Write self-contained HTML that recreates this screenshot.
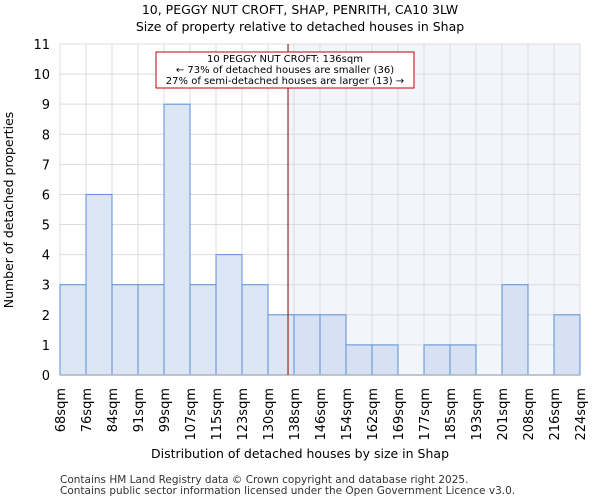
<!DOCTYPE html>
<html><head><meta charset="utf-8"><style>
body{margin:0;background:#fff;font-family:"DejaVu Sans","Liberation Sans",sans-serif}
svg text{font-family:"DejaVu Sans","Liberation Sans",sans-serif}
</style></head><body>
<svg id="c" width="600" height="500" xmlns="http://www.w3.org/2000/svg">
<text x="300" y="14" text-anchor="middle" font-size="12.5">10, PEGGY NUT CROFT, SHAP, PENRITH, CA10 3LW</text>
<text x="300" y="31" text-anchor="middle" font-size="12.5">Size of property relative to detached houses in Shap</text>
<g id="plot"></g>
<text x="300" y="458" text-anchor="middle" font-size="12.5">Distribution of detached houses by size in Shap</text>
<text transform="translate(13,210) rotate(-90)" text-anchor="middle" font-size="12.5">Number of detached properties</text>
<text x="60" y="483" font-size="10.5" fill="#333">Contains HM Land Registry data © Crown copyright and database right 2025.</text>
<text x="60" y="494" font-size="10.5" fill="#333">Contains public sector information licensed under the Open Government Licence v3.0.</text>
</svg>
<script>
const labels=["68sqm","76sqm","84sqm","91sqm","99sqm","107sqm","115sqm","123sqm","130sqm","138sqm","146sqm","154sqm","162sqm","169sqm","177sqm","185sqm","193sqm","201sqm","208sqm","216sqm","224sqm"];
const counts=[3,6,3,3,9,3,4,3,2,2,2,1,1,0,1,1,0,3,0,2];
const yTicks=[0,1,2,3,4,5,6,7,8,9,10,11];
const markerIndex=8.77;
const NS="http://www.w3.org/2000/svg";
const L=60,R=580,T=44,B=375,yMax=11;
const n=counts.length,bw=(R-L)/n;
const xs=i=>L+i*bw, ys=v=>B-(B-T)*v/yMax;
const g=document.getElementById('plot');
function mk(t,a){const e=document.createElementNS(NS,t);for(const k in a)e.setAttribute(k,a[k]);g.appendChild(e);return e;}
const mx=xs(markerIndex);
let e=mk('rect',{x:mx,y:T,width:R-mx,height:B-T,fill:'#f3f5fc'});


yTicks.forEach(v=>{
 let l=mk('line',{x1:L,x2:R,y1:ys(v),y2:ys(v),stroke:'#dcdcdc','stroke-width':1});
 
 
 let t=mk('text',{x:50,y:ys(v)+5,'text-anchor':'end','font-size':13});
 t.textContent=v;
 
 
});
labels.forEach((s,i)=>{
 let l=mk('line',{x1:xs(i),x2:xs(i),y1:T,y2:B,stroke:'#dcdcdc','stroke-width':1});
 
 
 let t=mk('text',{transform:`translate(${xs(i)+5},388) rotate(-90)`,'text-anchor':'end','font-size':13});
 t.textContent=s;
 
 
});
counts.forEach((v,i)=>{
 if(v<=0)return;
 let r=mk('rect',{x:xs(i),y:ys(v),width:bw,height:B-ys(v),fill:i>=9?'#d6e2f3':'#dce6f4',stroke:'#5b8fd6','stroke-width':1});
 
 
});
e=mk('line',{x1:L,x2:R,y1:B,y2:B,stroke:'#aab4c4','stroke-width':1.5});


e=mk('line',{x1:mx,x2:mx,y1:T,y2:B,stroke:'#900000','stroke-width':1});


e=mk('rect',{x:156,y:52,width:258,height:36,fill:'#fff',stroke:'#c00000','stroke-width':1});


["10 PEGGY NUT CROFT: 136sqm","← 73% of detached houses are smaller (36)","27% of semi-detached houses are larger (13) →"].forEach((s,k)=>{
 let t=mk('text',{x:285,y:62+k*11,'text-anchor':'middle','font-size':10});
 t.textContent=s;
 
 
});
</script>
</body></html>
